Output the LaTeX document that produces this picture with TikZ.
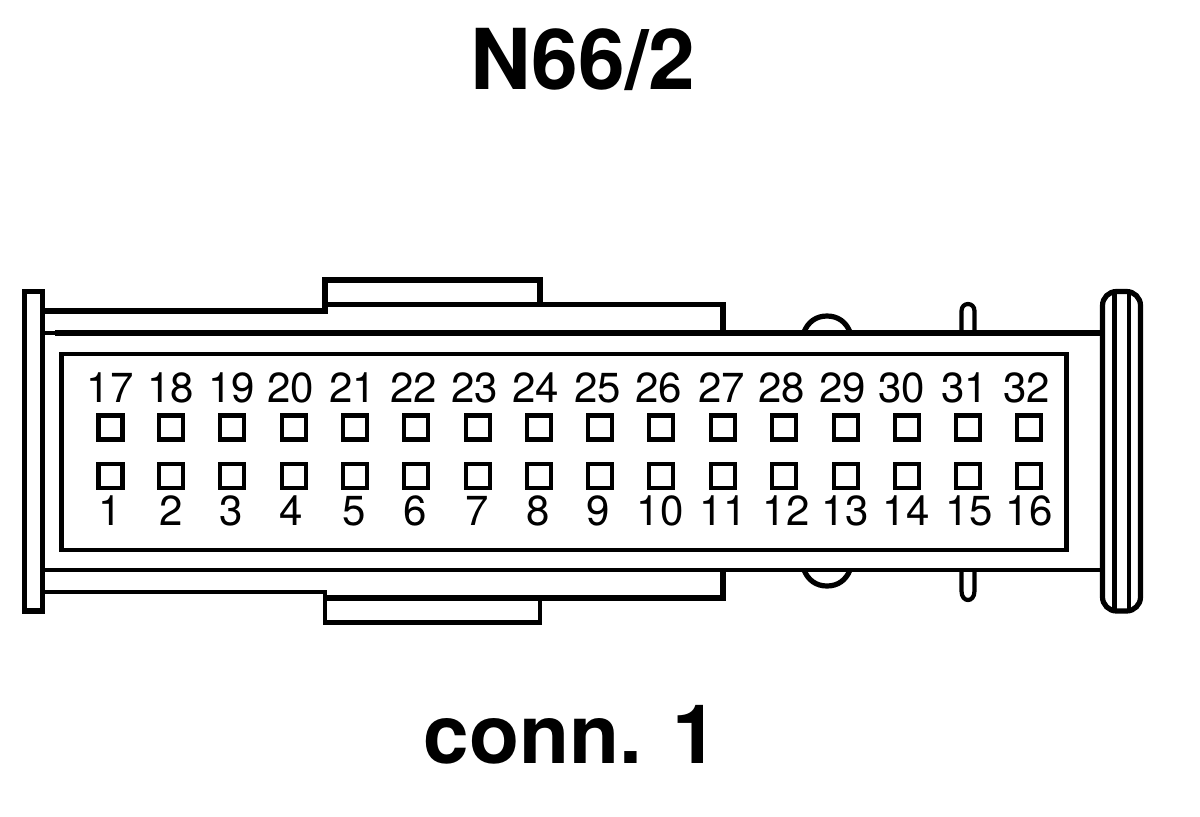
\documentclass[tikz,border=0pt]{standalone}
\usepackage{fontspec}
\setmainfont{TeX Gyre Heros}
\tikzset{
  heavy/.style={line width=2.6pt,line join=miter},
  medium/.style={line width=2.1pt,line join=miter},
  pinlabel/.style={inner sep=0pt,anchor=base,font=\fontsize{21pt}{21pt}\selectfont},
  titletext/.style={inner sep=0pt,anchor=base,font=\fontsize{42pt}{42pt}\selectfont\bfseries},
  captiontext/.style={inner sep=0pt,anchor=base,font=\fontsize{41pt}{41pt}\selectfont\bfseries},
  contact/.style={draw,line width=2.25pt,fill=white,minimum size=12.2pt,inner sep=0pt}
}
\begin{document}
\begin{tikzpicture}[x=0.5pt,y=-0.5pt]
\useasboundingbox (0,0) rectangle (1200,816);
\fill[white] (0,0) rectangle (1200,816);
% bumps and pins behind the body
\draw[heavy,fill=white] (804,332) .. controls (808,322) and (816,316) .. (827,316) .. controls (838,316) and (846,322) .. (850,332);
\draw[heavy,fill=white] (804,570) .. controls (808,580) and (816,586) .. (827,586) .. controls (838,586) and (846,580) .. (850,570);
\draw[medium,fill=white] (961.5,332) -- (961.5,311) .. controls (961.5,301.7) and (974.5,301.7) .. (974.5,311) -- (974.5,332);
\draw[medium,fill=white] (961.5,570) -- (961.5,591) .. controls (961.5,603) and (974.5,603) .. (974.5,591) -- (974.5,570);
% upper body
\draw[heavy] (42,311) -- (325,311) -- (325,280) -- (540,280) -- (540,304.5);
\draw[heavy] (325,304.5) -- (723,304.5) -- (723,332);
\draw[medium] (45,333) -- (55,333);
\draw[heavy] (55,333) -- (1102,333);
% lower body
\draw[medium] (42,570) -- (1102,570);
\draw[medium] (42,592) -- (325,592) -- (325,622.5) -- (540,622.5) -- (540,598);
\draw[heavy] (325,598) -- (723,598) -- (723,570);
% flange and knob
\draw[heavy,fill=white] (24.5,291.5) rectangle (42.5,611);
\draw[medium] (1114.5,291.5) -- (1114.5,611);
\draw[medium] (1129,291.5) -- (1129,611);
\draw[heavy,rounded corners=7pt] (1102.5,291.5) rectangle (1140.5,611);
% face
\draw[medium] (61.5,354) rectangle (1066.5,550);
% contacts
\foreach \i/\cx in {1/110.5,2/171,3/232,4/294,5/355,6/416,7/478,8/539,9/600,10/661,11/723,12/784,13/846,14/907,15/968,16/1029}{
  \node[contact] (lower\i) at (\cx,476) {};
}
\foreach \i/\cx in {17/110.5,18/171,19/232,20/294,21/355,22/416,23/478,24/539,25/600,26/661,27/723,28/784,29/846,30/907,31/968,32/1029}{
  \node[contact] (upper\i) at (\cx,427.5) {};
}
% pin labels
\foreach \i/\cx in {17/110,18/170.5,19/231.5,20/290.5,21/352.5,22/413.5,23/474.5,24/535.5,25/597.5,26/658.5,27/721.5,28/781.5,29/842.5,30/901.5,31/964.5,32/1026.5}{
  \node[pinlabel] (toplabel\i) at (\cx,402.5) {\i};
}
\foreach \i/\cx in {1/110,2/171,3/231,4/291,5/354,6/415,7/477,8/538,9/598,10/660,11/723,12/786,13/845,14/906,15/969,16/1029}{
  \node[pinlabel] (botlabel\i) at (\cx,525) {\i};
}
\node[titletext] (title) at (583,89) {N66/2};
\node[captiontext] (caption) at (571,763) {conn. 1};
\end{tikzpicture}
\end{document}
